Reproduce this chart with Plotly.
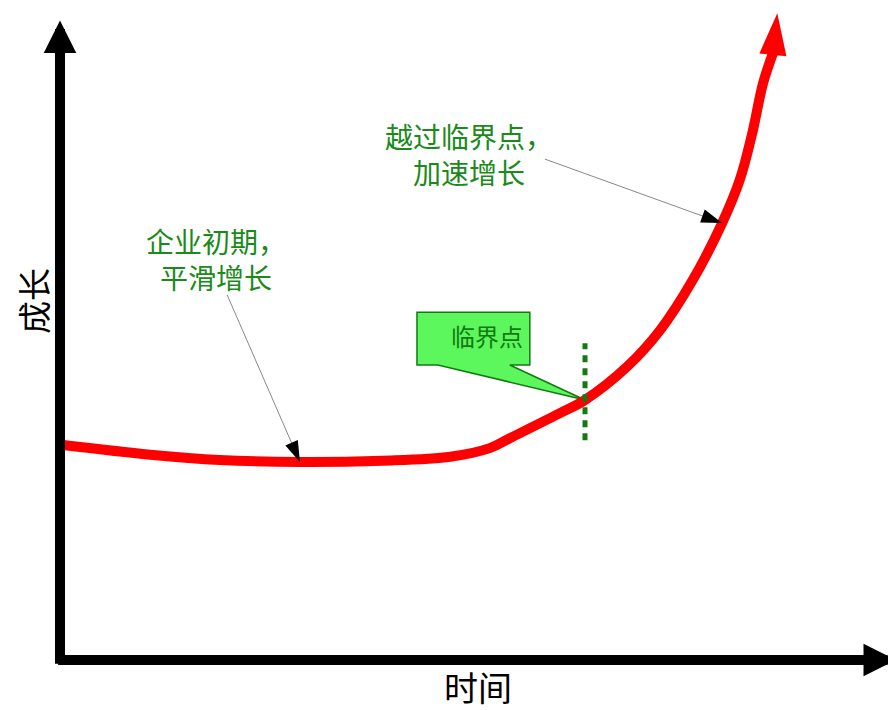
import plotly.graph_objects as go

# growth curve (time on x, growth on y); last point is the arrow tip
time = [0.01, 1.08, 1.91, 2.87, 3.86, 4.67, 5.14, 5.38, 5.98, 6.28,
        6.78, 7.18, 7.57, 7.92, 8.13, 8.28, 8.41, 8.53, 8.58]
growth = [3.26, 3.11, 3.03, 3.00, 3.02, 3.08, 3.21, 3.36, 3.74, 3.94,
          4.44, 5.00, 5.76, 6.62, 7.27, 7.98, 8.74, 9.20, 9.80]

x_title = "时间"
y_title = "成长"
early_label = "企业初期，<br>平滑增长"
late_label = "越过临界点，<br>加速增长"
critical_label = "临界点"

# which curve points the call-outs point at
EARLY_IDX = 3
CRIT_IDX = 9
LATE_IDX = 13

font = "Noto Sans CJK SC"
label_green = "#1A8A1A"
dark_green = "#137A13"

fig = go.Figure()

# curve body stops at the base of its arrow head
fig.add_scatter(
    x=time[:-1],
    y=growth[:-1],
    mode="lines",
    line={"color": "#FF0000", "width": 10, "shape": "spline", "smoothing": 1.0},
    cliponaxis=False,
    hoverinfo="skip",
)
fig.add_scatter(
    x=time[-2:],
    y=growth[-2:],
    mode="markers",
    marker={
        "symbol": "arrow",
        "angleref": "previous",
        "size": [0, 44],
        "color": "#FF0000",
        "opacity": 1,
        "line": {"width": 0},
    },
    cliponaxis=False,
    hoverinfo="skip",
)

# thin pointer lines with black heads
for idx, (tx, ty) in [(EARLY_IDX, (2.00, 5.53)), (LATE_IDX, (5.80, 7.59))]:
    fig.add_scatter(
        x=[tx, time[idx]],
        y=[ty, growth[idx]],
        mode="lines+markers",
        line={"color": "#888888", "width": 1},
        marker={
            "symbol": "arrow",
            "angleref": "previous",
            "size": [0, 22],
            "color": "#000000",
            "opacity": 1,
            "line": {"width": 0},
        },
        cliponaxis=False,
        hoverinfo="skip",
    )

cx, cy = time[CRIT_IDX], growth[CRIT_IDX]

# callout box with tail
fig.add_shape(
    type="path",
    path=(
        f"M 4.27,5.27 L 5.62,5.27 L 5.62,4.47 L 5.38,4.47 "
        f"L {cx},{cy} L 4.52,4.47 L 4.27,4.47 Z"
    ),
    fillcolor="#5CF75C",
    line={"color": dark_green, "width": 1.5},
    layer="below",
)

# dotted marker through the critical point
fig.add_shape(
    type="line",
    x0=cx, x1=cx, y0=cy - 0.61, y1=cy + 0.86,
    line={"color": dark_green, "width": 5, "dash": "7px,6px"},
)

fig.add_annotation(
    x=5.11, y=4.92, text=critical_label, showarrow=False,
    font={"family": font, "size": 24, "color": dark_green},
)
fig.add_annotation(
    x=1.87, y=6.08, text=early_label, showarrow=False, align="center",
    font={"family": font, "size": 28, "color": label_green},
)
fig.add_annotation(
    x=4.89, y=7.67, text=late_label, showarrow=False, align="center",
    font={"family": font, "size": 28, "color": label_green},
)

# axes drawn as thick arrows
axis_kw = dict(
    text="", showarrow=True, arrowhead=2, arrowsize=0.65, arrowwidth=10,
    arrowcolor="#000000", xref="x", yref="y", axref="x", ayref="y",
)
fig.add_annotation(x=10.0, y=0, ax=-0.04, ay=0, **axis_kw)
fig.add_annotation(x=0, y=9.69, ax=0, ay=-0.08, **axis_kw)

fig.add_annotation(
    xref="paper", yref="paper", x=0.5, y=-0.04, text=x_title,
    xanchor="center", yanchor="middle",
    showarrow=False, font={"family": font, "size": 34, "color": "#000000"},
)
fig.add_annotation(
    xref="paper", yref="paper", x=-0.0323, y=0.5506, text=y_title, textangle=-90,
    xanchor="center", yanchor="middle",
    showarrow=False, font={"family": font, "size": 33, "color": "#000000"},
)

hide = {"visible": False, "showgrid": False, "zeroline": False, "fixedrange": True}
fig.update_xaxes(range=[0, 10], **hide)
fig.update_yaxes(range=[0, 9.879], **hide)

# page body adds an 8px margin, so the figure is 8px smaller each way
fig.update_layout(
    width=888,
    height=702,
    margin={"l": 52, "r": 0, "t": 0, "b": 50},
    plot_bgcolor="white",
    paper_bgcolor="white",
    showlegend=False,
)

fig.write_html("out.html")
